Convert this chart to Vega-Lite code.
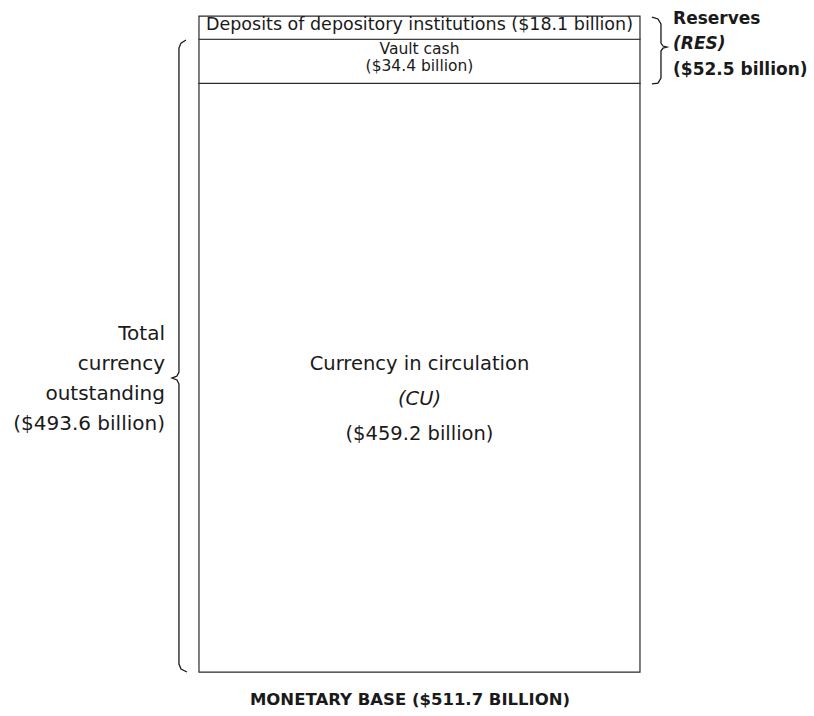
{
  "$schema": "https://vega.github.io/schema/vega-lite/v6.json",
  "width": 814,
  "height": 716,
  "padding": 0,
  "autosize": {"type": "fit", "contains": "padding"},
  "background": "white",
  "config": {
    "view": {"stroke": null},
    "text": {"font": "DejaVu Sans", "fontSize": 16, "color": "#1a1a1a", "lineBreak": "\n"}
  },
  "datasets": {
    "components": [
      {"component": "Currency in circulation", "symbol": "(CU)", "amount": "($459.2 billion)", "value": 459.2, "order": 1},
      {"component": "Vault cash", "symbol": "", "amount": "($34.4 billion)", "value": 34.4, "order": 2},
      {"component": "Deposits of depository institutions", "symbol": "", "amount": "($18.1 billion)", "value": 18.1, "order": 3}
    ],
    "groups": [
      {"group": "Total\ncurrency\noutstanding", "symbol": "", "amount": "($493.6 billion)", "side": "left", "x": -7.71, "y": 235.6},
      {"group": "Reserves", "symbol": "(RES)", "amount": "($52.5 billion)", "side": "right", "x": 107.5, "y": 487.5}
    ],
    "braces": [
      {"brace": "Total currency outstanding", "pt": 1, "x": -2.95, "y": 493.0},
      {"brace": "Total currency outstanding", "pt": 2, "x": -4.08, "y": 490.6},
      {"brace": "Total currency outstanding", "pt": 3, "x": -4.54, "y": 486.7},
      {"brace": "Total currency outstanding", "pt": 4, "x": -4.54, "y": 234.0},
      {"brace": "Total currency outstanding", "pt": 5, "x": -4.99, "y": 230.9},
      {"brace": "Total currency outstanding", "pt": 6, "x": -6.12, "y": 229.3},
      {"brace": "Total currency outstanding", "pt": 7, "x": -4.99, "y": 227.8},
      {"brace": "Total currency outstanding", "pt": 8, "x": -4.54, "y": 224.6},
      {"brace": "Total currency outstanding", "pt": 9, "x": -4.54, "y": 6.2},
      {"brace": "Total currency outstanding", "pt": 10, "x": -4.08, "y": 2.3},
      {"brace": "Total currency outstanding", "pt": 11, "x": -2.72, "y": 0},
      {"brace": "Reserves", "pt": 1, "x": 102.72, "y": 510.9},
      {"brace": "Reserves", "pt": 2, "x": 104.08, "y": 509.4},
      {"brace": "Reserves", "pt": 3, "x": 104.76, "y": 505.5},
      {"brace": "Reserves", "pt": 4, "x": 104.76, "y": 490.6},
      {"brace": "Reserves", "pt": 5, "x": 105.22, "y": 488.3},
      {"brace": "Reserves", "pt": 6, "x": 106.12, "y": 487.5},
      {"brace": "Reserves", "pt": 7, "x": 105.22, "y": 486.7},
      {"brace": "Reserves", "pt": 8, "x": 104.76, "y": 484.4},
      {"brace": "Reserves", "pt": 9, "x": 104.76, "y": 463.3},
      {"brace": "Reserves", "pt": 10, "x": 104.08, "y": 459.4},
      {"brace": "Reserves", "pt": 11, "x": 102.72, "y": 458.7}
    ]
  },
  "encoding": {
    "x": {"type": "quantitative", "scale": {"domain": [-45.12, 139.46], "nice": false, "zero": false}, "axis": null},
    "y": {"type": "quantitative", "scale": {"domain": [-34.3, 524.2], "nice": false, "zero": false}, "axis": null}
  },
  "layer": [
    {
      "data": {"name": "components"},
      "transform": [
        {"stack": "value", "groupby": [], "sort": [{"field": "order"}], "as": ["y0", "y1"]}
      ],
      "mark": {"type": "rect", "fill": "white", "stroke": "#2a2a2a", "strokeWidth": 1.2},
      "encoding": {
        "x": {"datum": 0, "type": "quantitative"},
        "x2": {"datum": 100},
        "y": {"field": "y0", "type": "quantitative"},
        "y2": {"field": "y1"}
      }
    },
    {
      "data": {"name": "components"},
      "transform": [
        {"stack": "value", "groupby": [], "sort": [{"field": "order"}], "as": ["y0", "y1"]},
        {"calculate": "(datum.y0 + datum.y1) / 2", "as": "mid"}
      ],
      "encoding": {
        "x": {"datum": 50, "type": "quantitative"},
        "y": {"field": "mid", "type": "quantitative"}
      },
      "layer": [
        {
          "transform": [{"filter": "datum.order == 3"}, {"calculate": "datum.component + ' ' + datum.amount", "as": "full"}],
          "mark": {"type": "text", "align": "center", "baseline": "middle", "fontSize": 17.5, "dy": -2.6},
          "encoding": {"text": {"field": "full"}}
        },
        {
          "transform": [{"filter": "datum.order == 2"}],
          "mark": {"type": "text", "align": "center", "baseline": "middle", "fontSize": 15.5, "dy": -12.5},
          "encoding": {"text": {"field": "component"}}
        },
        {
          "transform": [{"filter": "datum.order == 2"}],
          "mark": {"type": "text", "align": "center", "baseline": "middle", "fontSize": 15.5, "dy": 5},
          "encoding": {"text": {"field": "amount"}}
        },
        {
          "transform": [{"filter": "datum.order == 1"}],
          "mark": {"type": "text", "align": "center", "baseline": "middle", "fontSize": 19.5, "dy": -14},
          "encoding": {"text": {"field": "component"}}
        },
        {
          "transform": [{"filter": "datum.order == 1"}],
          "mark": {"type": "text", "align": "center", "baseline": "middle", "fontSize": 19.5, "fontStyle": "italic", "dy": 21},
          "encoding": {"text": {"field": "symbol"}}
        },
        {
          "transform": [{"filter": "datum.order == 1"}],
          "mark": {"type": "text", "align": "center", "baseline": "middle", "fontSize": 19.5, "dy": 56},
          "encoding": {"text": {"field": "amount"}}
        }
      ]
    },
    {
      "data": {"name": "braces"},
      "mark": {"type": "line", "stroke": "#1a1a1a", "strokeWidth": 1.3, "interpolate": "linear"},
      "encoding": {
        "x": {"field": "x", "type": "quantitative"},
        "y": {"field": "y", "type": "quantitative"},
        "detail": {"field": "brace"},
        "order": {"field": "pt"}
      }
    },
    {
      "data": {"name": "groups"},
      "encoding": {
        "x": {"field": "x", "type": "quantitative"},
        "y": {"field": "y", "type": "quantitative"}
      },
      "layer": [
        {
          "transform": [{"filter": "datum.side == 'left'"}, {"calculate": "datum.group + '\\n' + datum.amount", "as": "full"}],
          "mark": {"type": "text", "align": "right", "baseline": "middle", "fontSize": 20, "lineHeight": 30, "dy": -36},
          "encoding": {"text": {"field": "full"}}
        },
        {
          "transform": [{"filter": "datum.side == 'right'"}],
          "mark": {"type": "text", "align": "left", "baseline": "middle", "fontSize": 17, "fontWeight": "bold", "dy": -28},
          "encoding": {"text": {"field": "group"}}
        },
        {
          "transform": [{"filter": "datum.side == 'right'"}],
          "mark": {"type": "text", "align": "left", "baseline": "middle", "fontSize": 17, "fontWeight": "bold", "fontStyle": "italic", "dy": -3},
          "encoding": {"text": {"field": "symbol"}}
        },
        {
          "transform": [{"filter": "datum.side == 'right'"}],
          "mark": {"type": "text", "align": "left", "baseline": "middle", "fontSize": 17, "fontWeight": "bold", "dy": 23},
          "encoding": {"text": {"field": "amount"}}
        }
      ]
    },
    {
      "data": {"values": [{"text": "MONETARY BASE ($511.7 BILLION)", "x": 47.85, "y": -21.8}]},
      "mark": {"type": "text", "align": "center", "baseline": "middle", "fontSize": 16.5, "fontWeight": "bold"},
      "encoding": {"x": {"field": "x", "type": "quantitative"}, "y": {"field": "y", "type": "quantitative"}, "text": {"field": "text"}}
    }
  ]
}
